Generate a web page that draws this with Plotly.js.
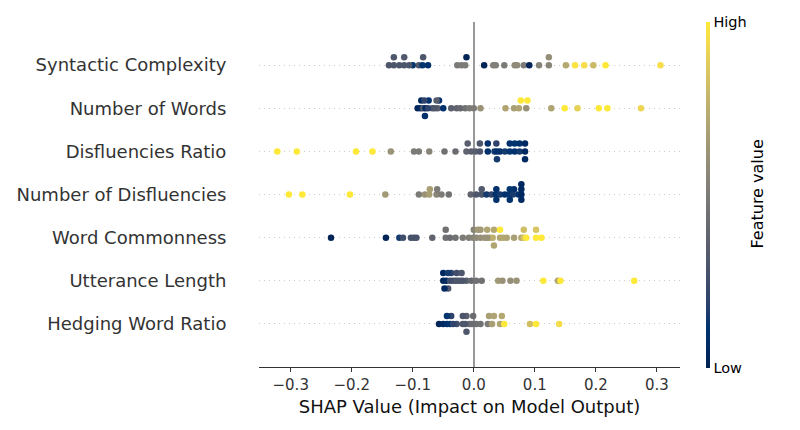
<!DOCTYPE html>
<html>
<head>
<meta charset="utf-8">
<script src="https://cdn.plot.ly/plotly-3.0.1.min.js"></script>
<style>html,body{margin:0;padding:0;background:#fff;}#chart{width:800px;height:430px;}</style>
</head>
<body>
<div id="chart"></div>
<script>
// Features, bottom to top
const features = ["Hedging Word Ratio", "Utterance Length", "Word Commonness", "Number of Disfluencies", "Disfluencies Ratio", "Number of Words", "Syntactic Complexity"];

// SHAP values and normalized feature values (0 = low, 1 = high) per feature
const shapSyntactic = [-0.139,-0.131,-0.114,-0.100,-0.090,-0.083,-0.075,-0.131,-0.122,-0.114,-0.106,-0.084,-0.027,-0.020,-0.012,-0.014,0.017,0.032,0.036,0.050,0.067,0.071,0.082,0.091,0.107,0.123,0.123,0.151,0.166,0.181,0.196,0.216,0.306];
const featSyntactic = [0.30,0.30,0.30,0.12,0.30,0.30,0.10,0.30,0.30,0.32,0.30,0.12,0.50,0.50,0.02,0.50,0.02,0.52,0.52,0.50,0.58,0.58,0.50,0.02,0.55,0.55,0.60,0.72,0.98,0.95,0.80,1.00,0.95];

const shapWords = [-0.092,-0.087,-0.083,-0.079,-0.074,-0.068,-0.059,-0.050,-0.086,-0.080,-0.057,-0.061,-0.081,-0.075,-0.064,-0.037,-0.028,-0.022,-0.014,-0.007,0.000,0.011,0.052,0.066,0.074,0.086,0.077,0.088,0.127,0.149,0.170,0.205,0.219,0.274];
const featWords = [0.02,0.05,0.30,0.05,0.10,0.30,0.35,0.10,0.05,0.10,0.10,0.35,0.20,0.20,0.30,0.35,0.38,0.40,0.45,0.50,0.50,0.62,0.70,0.68,0.70,0.62,1.00,1.00,0.70,1.00,0.90,1.00,1.00,0.92];

const shapDisRatio = [-0.322,-0.290,-0.193,-0.166,-0.136,-0.098,-0.090,-0.073,-0.048,-0.030,-0.012,-0.010,-0.004,0.003,0.010,0.010,0.023,0.023,0.034,0.038,0.038,0.037,0.043,0.051,0.059,0.067,0.075,0.084,0.059,0.067,0.075,0.084,0.084];
const featDisRatio = [1.00,1.00,1.00,1.00,0.62,0.50,0.50,0.55,0.45,0.42,0.38,0.35,0.35,0.35,0.30,0.30,0.10,0.10,0.15,0.10,0.15,0.20,0.10,0.15,0.12,0.10,0.15,0.05,0.10,0.12,0.10,0.05,0.05];

const shapDisNum = [-0.303,-0.281,-0.203,-0.145,-0.090,-0.080,-0.073,-0.061,-0.053,-0.041,-0.072,-0.060,-0.005,0.004,0.013,0.021,0.029,0.036,0.043,0.051,0.059,0.066,0.073,0.078,0.013,0.037,0.059,0.064,0.078,0.078,0.037,0.059,0.078];
const featDisNum = [1.00,1.00,1.00,0.65,0.50,0.62,0.68,0.55,0.50,0.45,0.68,0.50,0.38,0.30,0.30,0.15,0.20,0.10,0.15,0.10,0.12,0.10,0.10,0.05,0.32,0.10,0.12,0.15,0.05,0.05,0.10,0.10,0.05];

const shapCommon = [-0.234,-0.144,-0.122,-0.116,-0.103,-0.098,-0.094,-0.068,-0.046,-0.046,-0.039,-0.030,-0.018,-0.008,-0.001,0.004,0.011,0.018,0.026,0.031,0.043,0.048,0.054,0.066,0.078,0.082,0.086,0.102,0.111,0.000,0.007,0.011,0.022,0.033,0.043,0.082,0.102,0.022,0.033];
const featCommon = [0.02,0.02,0.15,0.25,0.28,0.28,0.28,0.38,0.45,0.45,0.42,0.45,0.50,0.52,0.55,0.58,0.60,0.62,0.70,0.75,0.70,0.72,0.70,0.68,0.72,0.85,1.00,1.00,1.00,0.55,0.65,0.65,0.62,0.72,1.00,0.82,0.85,0.70,0.70];

const shapUtter = [-0.050,-0.045,-0.037,-0.028,-0.020,-0.012,-0.004,0.004,0.013,-0.050,-0.042,-0.034,-0.026,-0.018,-0.042,-0.048,-0.039,-0.030,-0.022,0.040,0.047,0.060,0.070,0.114,0.138,0.142,0.263];
const featUtter = [0.02,0.05,0.20,0.25,0.30,0.35,0.40,0.45,0.45,0.05,0.15,0.30,0.30,0.30,0.30,0.05,0.25,0.30,0.30,0.65,0.62,0.60,0.62,1.00,0.70,1.00,1.00];

const shapHedging = [-0.057,-0.050,-0.044,-0.037,-0.028,-0.018,-0.012,-0.007,-0.001,0.004,0.011,0.023,0.033,0.043,0.046,0.050,0.092,0.102,0.140,-0.044,-0.039,-0.034,-0.018,-0.012,-0.003,0.025,0.030,-0.014];
const featHedging = [0.02,0.05,0.10,0.20,0.25,0.30,0.35,0.40,0.42,0.45,0.45,0.50,0.70,0.70,0.72,1.00,0.82,1.00,0.95,0.12,0.12,0.20,0.30,0.30,0.42,0.68,0.68,0.30];

const shapByFeature = [shapHedging, shapUtter, shapCommon, shapDisNum, shapDisRatio, shapWords, shapSyntactic];
const featByFeature = [featHedging, featUtter, featCommon, featDisNum, featDisRatio, featWords, featSyntactic];

// beeswarm: stack nearby points in alternating layers around the row line
function swarm(xs, thr) {
  const idx = xs.map((v, i) => i).sort((a, b) => xs[a] - xs[b]);
  const layers = {};
  const lay = new Array(xs.length);
  for (const i of idx) {
    for (let k = 0; ; k++) {
      const L = Math.ceil(k / 2) * (k % 2 ? 1 : -1) || 0;
      const arr = layers[L] || (layers[L] = []);
      if (!arr.some(v => Math.abs(v - xs[i]) < thr)) { arr.push(xs[i]); lay[i] = L; break; }
    }
  }
  const maxL = Math.max(...lay.map(Math.abs));
  const step = 0.36 / (maxL + 1);
  return lay.map(L => L * step);
}

const X = [], Y = [], C = [];
shapByFeature.forEach((xs, row) => {
  const offs = swarm(xs, 0.0036);
  xs.forEach((v, i) => { X.push(v); Y.push(row + offs[i]); C.push(featByFeature[row][i]); });
});

const cividis = [[0,'rgb(0,34,78)'],[0.058824,'rgb(0,42,102)'],[0.117647,'rgb(0,52,110)'],[0.176471,'rgb(39,63,108)'],[0.235294,'rgb(60,74,107)'],[0.294118,'rgb(76,85,107)'],[0.352941,'rgb(91,95,109)'],[0.411765,'rgb(104,106,112)'],[0.470588,'rgb(117,117,117)'],[0.529412,'rgb(131,129,120)'],[0.588235,'rgb(146,140,120)'],[0.647059,'rgb(161,152,118)'],[0.705882,'rgb(176,165,114)'],[0.764706,'rgb(192,177,109)'],[0.823529,'rgb(209,191,102)'],[0.882353,'rgb(225,204,92)'],[0.941176,'rgb(243,219,79)'],[1,'rgb(254,232,56)']];

const trace = {
  type: 'scatter', mode: 'markers', x: X, y: Y, hoverinfo: 'skip',
  marker: {
    size: 6.5, color: C, cmin: 0, cmax: 1, colorscale: cividis, showscale: true, line: {width: 0},
    colorbar: {
      thickness: 4, thicknessmode: 'pixels', len: 346, lenmode: 'pixels',
      x: 1.062, xanchor: 'left', y: 0.5, yanchor: 'middle', xpad: 0, ypad: 0,
      outlinewidth: 0, ticks: '', tickvals: [0, 1], ticktext: ['Low', 'High'],
      tickfont: {family: 'DejaVu Sans', size: 14.5, color: '#000'}
    }
  }
};

const layout = {
  width: 800, height: 430,
  margin: {l: 259, r: 120, t: 22, b: 63},
  paper_bgcolor: '#fff', plot_bgcolor: '#fff',
  showlegend: false,
  font: {family: 'DejaVu Sans', color: '#333'},
  xaxis: {
    range: [-0.352, 0.338], tickvals: [-0.3, -0.2, -0.1, 0, 0.1, 0.2, 0.3], tickformat: '.1f',
    showgrid: false, zeroline: true, zerolinecolor: '#999', zerolinewidth: 2,
    showline: true, linecolor: '#333', linewidth: 1, ticks: 'outside', ticklen: 4, tickcolor: '#333',
    tickfont: {size: 15, color: '#333'},
    title: {text: 'SHAP Value (Impact on Model Output)', font: {size: 18, color: '#111'}, standoff: 7}
  },
  yaxis: {
    range: [-1, 7], tickvals: features.map((f, i) => i), ticktext: features,
    showgrid: true, gridcolor: '#cccccc', griddash: '1px,4px', gridwidth: 1,
    zeroline: false, showline: false, ticks: 'outside', ticklen: 28, tickcolor: 'rgba(0,0,0,0)',
    tickfont: {size: 18, color: '#333'}
  },
  annotations: [{
    text: 'Feature value', textangle: -90, xref: 'paper', yref: 'paper',
    x: (757 - 259) / 421, y: 0.5, xanchor: 'center', yanchor: 'middle', showarrow: false,
    font: {family: 'DejaVu Sans', size: 16, color: '#000'}
  }]
};

Plotly.newPlot('chart', [trace], layout, {displayModeBar: false, staticPlot: true});
</script>
</body>
</html>
